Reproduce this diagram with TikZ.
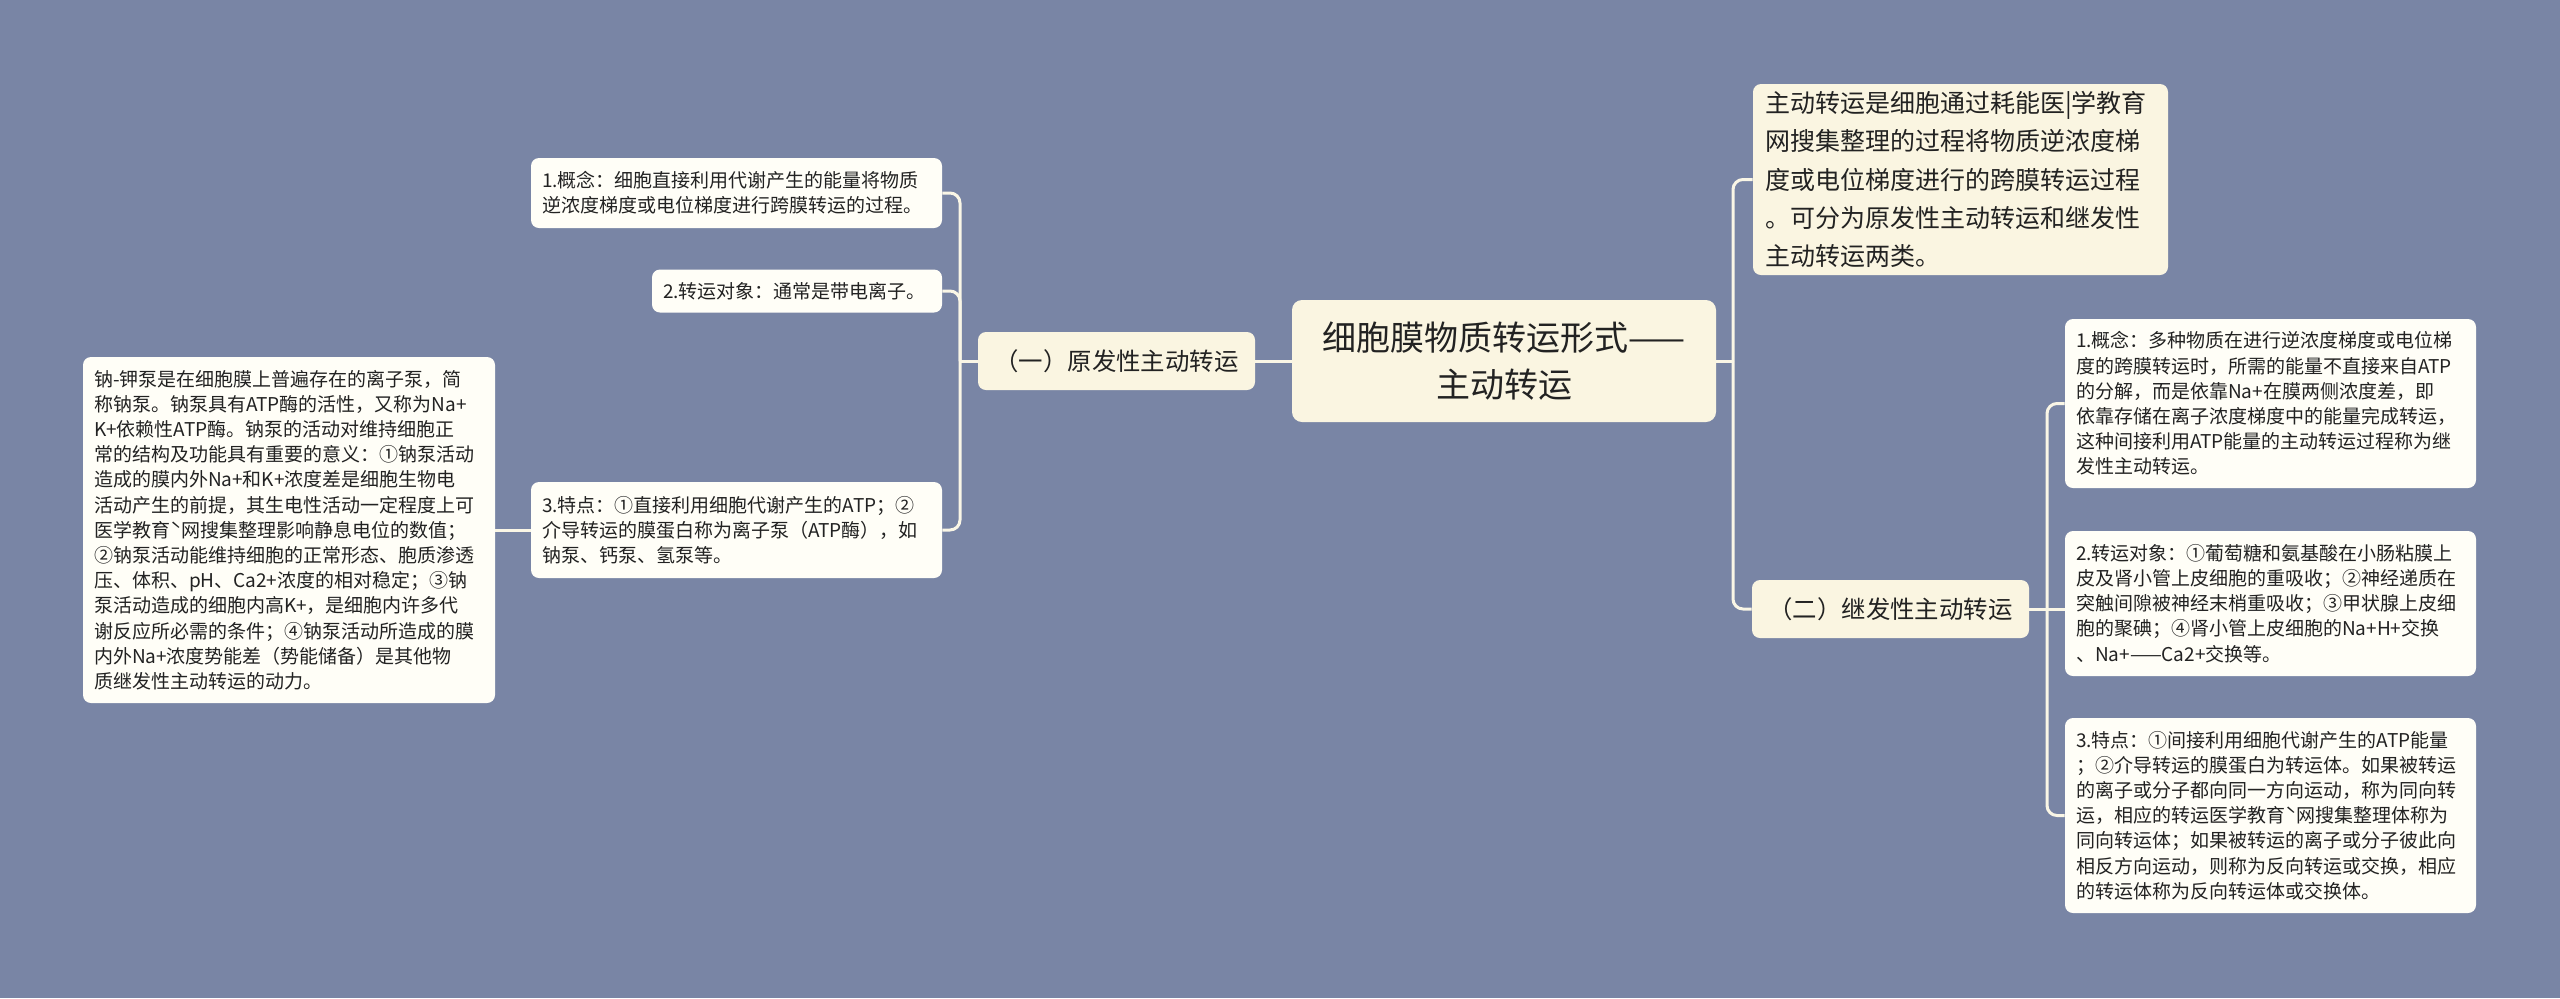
\documentclass[tikz,border=0pt]{standalone}
\usepackage{fontspec}
\setmainfont{Noto Sans CJK SC}
\definecolor{bgblue}{RGB}{121,133,165}
\definecolor{cream}{RGB}{250,245,225}
\definecolor{paper}{RGB}{255,254,247}
\definecolor{wire}{RGB}{250,246,230}
\definecolor{ink}{RGB}{34,34,34}
\tikzset{
  link/.style={draw=wire,line width=1.5pt,rounded corners=5pt},
  % 主题・分支
  root/.style={fill=cream,rounded corners=5pt,align=center,text=ink,inner sep=0pt,
    minimum width=212pt,minimum height=61pt,font=\fontsize{17pt}{23.5pt}\selectfont},
  branch/.style={fill=cream,rounded corners=4pt,align=center,text=ink,inner sep=0pt,
    minimum width=138.5pt,minimum height=29pt,font=\fontsize{12.2pt}{15pt}\selectfont},
  % 说明框
  leaf/.style={fill=paper,rounded corners=4pt,align=left,text=ink,inner xsep=5.5pt,inner ysep=2pt,
    text width=194.5pt,font=\fontsize{9.5pt}{12.6pt}\selectfont},
  memo/.style={fill=cream,rounded corners=4pt,align=left,text=ink,inner xsep=6pt,inner ysep=2pt,
    text width=195.5pt,minimum height=95.5pt,font=\fontsize{12.5pt}{19.2pt}\selectfont}
}
\begin{document}
\begin{tikzpicture}[x=0.5pt,y=-0.5pt]
  \fill[bgblue] (0,0) rectangle (2560,998);
  \useasboundingbox (0,0) rectangle (2560,998);

  %--- centre
  \node[root] (root) at (1504,361) {细胞膜物质转运形式——\\主动转运};

  %--- left side
  \node[branch] (pri) at (1116.5,361) {（一）原发性主动转运};
  \node[leaf,minimum height=35pt] (pa) at (736.5,193)
    {1.概念：细胞直接利用代谢产生的能量将物质\\逆浓度梯度或电位梯度进行跨膜转运的过程。};
  \node[leaf,text width=134pt,minimum height=21.5pt] (pb) at (797,291)
    {2.转运对象：通常是带电离子。};
  \node[leaf,minimum height=48pt] (pc) at (736.5,530)
    {3.特点：①直接利用细胞代谢产生的ATP；②\\介导转运的膜蛋白称为离子泵（ATP酶），如\\钠泵、钙泵、氢泵等。};
  \node[leaf,text width=195pt,minimum height=173pt] (pump) at (289,530)
    {钠-钾泵是在细胞膜上普遍存在的离子泵，简\\称钠泵。钠泵具有ATP酶的活性，又称为Na+\\K+依赖性ATP酶。钠泵的活动对维持细胞正\\常的结构及功能具有重要的意义：①钠泵活动\\造成的膜内外Na+和K+浓度差是细胞生物电\\活动产生的前提，其生电性活动一定程度上可\\医学教育ˋ网搜集整理影响静息电位的数值；\\②钠泵活动能维持细胞的正常形态、胞质渗透\\压、体积、pH、Ca2+浓度的相对稳定；③钠\\泵活动造成的细胞内高K+，是细胞内许多代\\谢反应所必需的条件；④钠泵活动所造成的膜\\内外Na+浓度势能差（势能储备）是其他物\\质继发性主动转运的动力。};

  %--- right side
  \node[memo] (def) at (1960.5,179.5)
    {主动转运是细胞通过耗能医|学教育\\网搜集整理的过程将物质逆浓度梯\\度或电位梯度进行的跨膜转运过程\\。可分为原发性主动转运和继发性\\主动转运两类。};
  \node[branch] (sec) at (1890.5,609) {（二）继发性主动转运};
  \node[leaf,minimum height=84.5pt] (sa) at (2270.5,403.5)
    {1.概念：多种物质在进行逆浓度梯度或电位梯\\度的跨膜转运时，所需的能量不直接来自ATP\\的分解，而是依靠Na+在膜两侧浓度差，即\\依靠存储在离子浓度梯度中的能量完成转运，\\这种间接利用ATP能量的主动转运过程称为继\\发性主动转运。};
  \node[leaf,minimum height=72.5pt] (sb) at (2270.5,603.5)
    {2.转运对象：①葡萄糖和氨基酸在小肠粘膜上\\皮及肾小管上皮细胞的重吸收；②神经递质在\\突触间隙被神经末梢重吸收；③甲状腺上皮细\\胞的聚碘；④肾小管上皮细胞的Na+H+交换\\、Na+——Ca2+交换等。};
  \node[leaf,minimum height=97.5pt] (sc) at (2270.5,815.5)
    {3.特点：①间接利用细胞代谢产生的ATP能量\\；②介导转运的膜蛋白为转运体。如果被转运\\的离子或分子都向同一方向运动，称为同向转\\运，相应的转运医学教育ˋ网搜集整理体称为\\同向转运体；如果被转运的离子或分子彼此向\\相反方向运动，则称为反向转运或交换，相应\\的转运体称为反向转运体或交换体。};

  %--- connectors
  \coordinate (rj) at (1733,361);
  \coordinate (lj) at (960,361);
  \coordinate (sj) at (2047,609);
  \draw[link] (root.west) -- (pri.east);
  \draw[link] (pri.west) -- (lj);
  \draw[link] (lj) |- (pa.east);
  \draw[link] (lj) |- (pb.east);
  \draw[link] (lj) |- (pc.east);
  \draw[link] (pc.west) -- (pump.east);
  \draw[link] (root.east) -- (rj);
  \draw[link] (rj) |- (def.west);
  \draw[link] (rj) |- (sec.west);
  \draw[link] (sec.east) -- (sj);
  \draw[link] (sj) |- (sa.west);
  \draw[link] (sj) -- (sj -| sb.west);
  \draw[link] (sj) |- (sc.west);
\end{tikzpicture}
\end{document}
